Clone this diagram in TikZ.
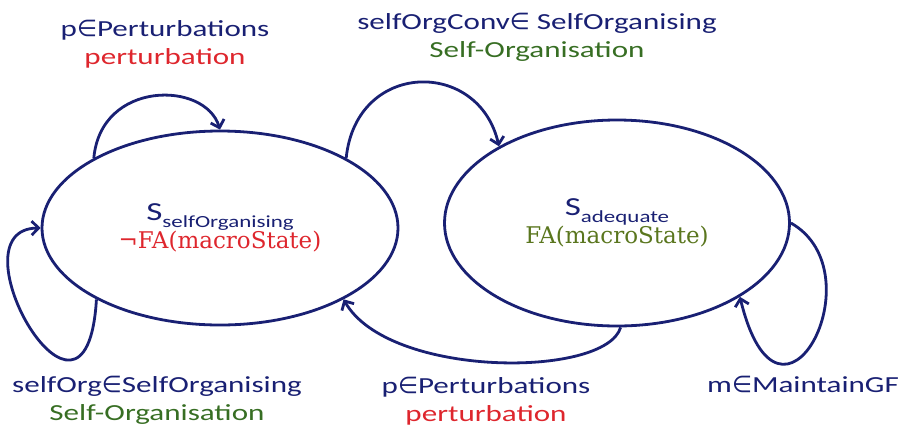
\documentclass[tikz,border=0pt]{standalone}
\usepackage{fontspec}
\setmainfont{Carlito}[FakeStretch=1.35]
\newfontfamily\macrofont{DejaVu Serif}
\newfontfamily\symbfont{DejaVu Sans}
\newcommand\isin{{\symbfont\char"2208}}
\usetikzlibrary{arrows.meta,shapes.geometric}
\definecolor{navy}{RGB}{25,32,115}
\definecolor{pred}{RGB}{222,38,45}
\definecolor{pgreen}{RGB}{55,110,35}
\definecolor{fagreen}{RGB}{90,118,30}

\begin{document}
\begin{tikzpicture}[x=1pt, y=-1pt,
    state/.style={draw=navy, line width=2.8pt, ellipse, align=center, inner sep=0pt},
    trans/.style={draw=navy, line width=2.8pt, -{Straight Barb[length=7pt,width=14pt]}},
    lbl/.style={align=center, font=\fontsize{23}{28}\selectfont, text=navy}
]
\useasboundingbox (0,0) rectangle (905,432);
\node[state, minimum width=356pt, minimum height=194pt] (selforg) at (220,228)
    {{\fontsize{26}{32}\selectfont\color{navy}S\raisebox{-7pt}{\fontsize{17}{19}\selectfont selfOrganising}}\\
     {\macrofont\fontsize{23}{32}\selectfont\color{pred}¬FA(macroState)}};
\node[state, minimum width=345pt, minimum height=206pt] (adequate) at (617,223)
    {{\fontsize{26}{32}\selectfont\color{navy}S\raisebox{-7pt}{\fontsize{17}{19}\selectfont adequate}}\\
     {\macrofont\fontsize{23}{32}\selectfont\color{fagreen}FA(macroState)}};

\node[lbl] (pertA) at (165,44) {p\isin Perturbations\\\textcolor{pred}{perturbation}};
\node[lbl] (convlbl) at (537,37) {selfOrgConv\isin\ SelfOrganising\\\textcolor{pgreen}{Self-Organisation}};
\node[lbl] (orglbl) at (157,400) {selfOrg\isin SelfOrganising\\\textcolor{pgreen}{Self-Organisation}};
\node[lbl] (pertB) at (486,401) {p\isin Perturbations\\\textcolor{pred}{perturbation}};
\node[lbl, anchor=base] (maintlbl) at (803,392) {m\isin MaintainGF};

\draw[trans] (selforg.151) .. controls +(7,-78) and +(-15,-49) .. (selforg.90);
\draw[trans] (selforg.29) .. controls +(10,-98) and +(-20,-88) .. (adequate.147);
\draw[trans] (selforg.210) .. controls +(-10,170) and +(-92,1) .. (selforg.180);
\draw[trans] (adequate.272) .. controls +(-15,51) and +(45,79) .. (selforg.330);
\draw[trans] (adequate.0) .. controls +(88,50) and +(40,165) .. (adequate.329);
\end{tikzpicture}
\end{document}
